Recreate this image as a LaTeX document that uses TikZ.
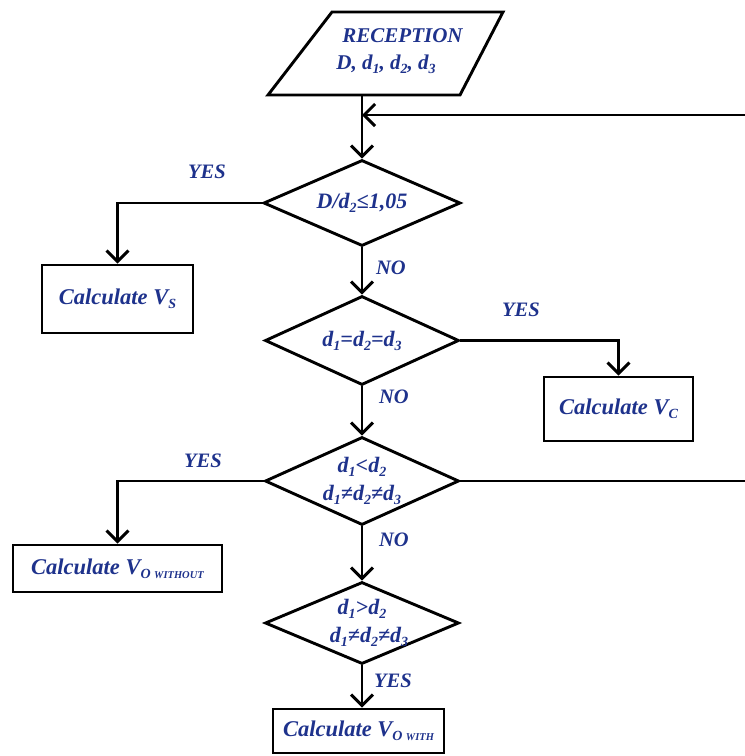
\documentclass[tikz,border=0pt]{standalone}
\usepackage{fontspec}
\setmainfont{Liberation Serif}
\usetikzlibrary{shapes.geometric,arrows.meta}
\definecolor{txtblue}{RGB}{30,50,140}
\newcommand\lsub[1]{\raisebox{-0.4ex}{\fontsize{14}{14}\selectfont #1}}
\newcommand\tsub[1]{{\fontsize{10.5}{11}\selectfont #1}}
\begin{document}
\begin{tikzpicture}[x=1pt,y=-1pt, line width=2.9pt,
  txt/.style={font=\fontsize{22}{28}\selectfont\bfseries\itshape, text=txtblue},
  lbl/.style={txt, font=\fontsize{20.5}{22}\selectfont\bfseries\itshape, inner sep=0},
  box/.style={draw, rectangle, inner sep=0, txt, font=\fontsize{22.5}{24}\selectfont\bfseries\itshape},
  dec/.style={draw, diamond, aspect=2.25, inner sep=-12pt, minimum width=194pt, minimum height=86pt, txt, align=center},
  arr/.style={-{Straight Barb[length=11pt,width=22pt]}}]
\useasboundingbox (0,0) rectangle (745,756);
% input parallelogram
\draw (268,95) -- (332,12) -- (503,12) -- (460,95) -- cycle;
\node[txt, font=\fontsize{21}{27}\selectfont\bfseries\itshape, anchor=west, align=left, inner sep=0] (rec) at (335,51) {\hspace{6pt}RECEPTION\\D, d\lsub{1}, d\lsub{2}, d\lsub{3}};
\coordinate (recb) at (362,95);
\coordinate (j) at (362,115);
\coordinate (e2) at (745,115);
% decisions
\node[dec, minimum width=197pt] (d1) at (362,203) {D/d\lsub{2}≤1,05};
\node[dec, minimum height=89pt] (d2) at (362,340.5) {d\lsub{1}=d\lsub{2}=d\lsub{3}};
\node[dec, minimum height=88pt] (d3) at (362,481) {d\lsub{1}<d\lsub{2}\\d\lsub{1}≠d\lsub{2}≠d\lsub{3}};
\node[dec, minimum height=82pt] (d4) at (362,623) {d\lsub{1}>d\lsub{2}\hspace{12pt}\\\hspace{14pt}d\lsub{1}≠d\lsub{2}≠d\lsub{3}};
\coordinate (e1) at (d3.east -| e2);
% process boxes
\node[box, minimum width=151pt, minimum height=68pt] (vs) at (117.5,299) {Calculate V\lsub{S}};
\node[box, minimum width=149pt, minimum height=64pt] (vc) at (618.5,409) {Calculate V\lsub{C}};
\node[box, minimum width=209pt, minimum height=47pt] (vow) at (117.5,568.5) {Calculate V\lsub{O \tsub{WITHOUT}}};
\node[box, minimum width=171pt, minimum height=44pt] (vw) at (358.5,731) {Calculate V\lsub{O \tsub{WITH}}};
% connectors
\draw[arr] (recb) -- (d1.north);
\draw[arr] (e2) -- (j);
\draw[arr] (d1.west) -| (vs.north);
\draw[arr] (d1.south) -- (d2.north);
\draw[arr] (d2.east) -| (vc.north);
\draw[arr] (d2.south) -- (d3.north);
\draw[arr] (d3.west) -| (vow.north);
\draw (d3.east) -- (e1);
\draw[arr] (d3.south) -- (d4.north);
\draw[arr] (d4.south) -- (d4.south |- vw.north);
% labels
\node[lbl] (l1) at (207,172) {YES};
\node[lbl] (l2) at (391,268) {NO};
\node[lbl] (l3) at (521,310) {YES};
\node[lbl] (l4) at (394,397) {NO};
\node[lbl] (l5) at (203,461) {YES};
\node[lbl] (l6) at (394,540) {NO};
\node[lbl] (l7) at (393,681) {YES};
\end{tikzpicture}
\end{document}
